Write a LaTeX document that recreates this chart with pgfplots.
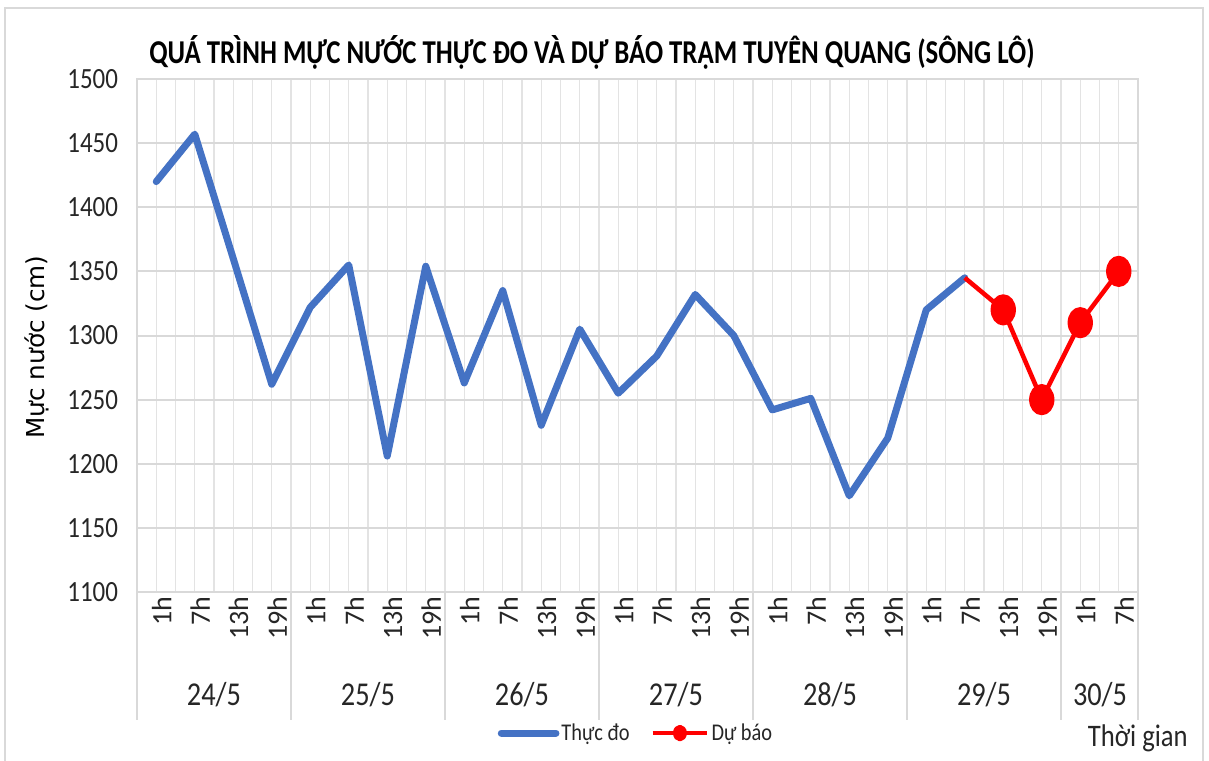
\documentclass[border=0pt]{standalone}
\usepackage{fontspec}
\usepackage{pgfplots}
\pgfplotsset{compat=1.18}
\setmainfont{Carlito}
\newfontfamily\cond[FakeStretch=0.85]{Carlito}
\newfontfamily\titlefont[FakeStretch=0.805]{Carlito}
\newfontfamily\ylabfont{DejaVu Sans}

\definecolor{xlblue}{HTML}{4472C4}
\definecolor{xlred}{HTML}{FF0000}
\definecolor{gridc}{HTML}{D9D9D9}
\definecolor{gridv}{HTML}{E3E3E3}
\definecolor{txt}{HTML}{262626}

\begin{document}
\begin{tikzpicture}
\path[use as bounding box] (0,0) rectangle (906.75pt,-570pt);

\begin{scope}[x=0.75pt,y=-0.75pt]
  % chart frame
  \draw[gridc, line width=1.5pt] (5,775) -- (5,8) -- (1203,8) -- (1203,775);
\end{scope}

\begin{axis}[
    at={(102.75pt,-444pt)}, anchor=south west,
    scale only axis,
    width=750.75pt, height=384.75pt,
    xmin=-0.5, xmax=25.5,
    ymin=1100, ymax=1500,
    ytick={1100,1150,...,1500},
    xtick={0,...,25},
    xticklabels={1h,7h,13h,19h,1h,7h,13h,19h,1h,7h,13h,19h,1h,7h,13h,19h,1h,7h,13h,19h,1h,7h,13h,19h,1h,7h},
    minor xtick={-0.5,0,...,25.5},
    xmajorgrids=false, xminorgrids=true, ymajorgrids=true,
    major grid style={gridc, line width=1.5pt},
    minor grid style={gridv, line width=1.1pt},
    major tick length=0pt, minor tick length=0pt,
    axis line style={gridc, line width=1.2pt},
    /pgf/number format/assume math mode=true,
    /pgf/number format/1000 sep={},
    yticklabel style={font=\cond\fontsize{22}{24}\selectfont, text=txt, xshift=-10.75pt},
    xticklabel style={font=\fontsize{21}{24}\selectfont, text=txt, rotate=90, anchor=east, yshift=-4pt},
    clip=false,
    legend style={at={(0.4985,-0.275)}, anchor=center, draw=none, fill=none,
      legend columns=2, font=\cond\fontsize{18}{20}\selectfont, text=txt,
      /tikz/every even column/.append style={column sep=14pt},
      nodes={inner sep=1.5pt}},
    legend image code/.code={\draw[#1] (0pt,0pt) -- (41pt,0pt);},
]
\addplot[xlblue, line width=5.25pt, line join=round, line cap=round] coordinates {
(0,1420) (1,1457) (2,1360) (3,1262) (4,1322) (5,1355) (6,1206) (7,1354)
(8,1263) (9,1335) (10,1230) (11,1305) (12,1255) (13,1284) (14,1332) (15,1300)
(16,1242) (17,1251) (18,1175) (19,1220) (20,1320) (21,1345)
};
\addlegendentry{Thực đo}
\addplot[xlred, line width=3.4pt, line join=round, mark=*, mark size=10pt,
  mark indices={2,3,4,5}, mark options={xscale=0.78, solid, fill=xlred},
  legend image code/.code={\draw[xlred, line width=3.4pt] (0pt,0pt) -- (41pt,0pt); \fill[xlred] (20.5pt,0pt) ellipse (3.5pt and 4.5pt);}] coordinates {
(21,1345) (22,1320) (23,1250) (24,1310) (25,1350)
};
\addlegendentry{Dự báo}
\end{axis}

\begin{scope}[x=0.75pt,y=-0.75pt]
  % bottom axis line
  \draw[gridc, line width=2.2pt] (137,592) -- (1138,592);
  % group separators
  \foreach \gx in {137,291,445,599,753,907,1061,1138}
    \draw[gridc, line width=1.5pt] (\gx,592) -- (\gx,720);
  % date labels
  \foreach \gx/\lab in {214/{24/5},368/{25/5},522/{26/5},676/{27/5},830/{28/5},984/{29/5},1100/{30/5}}
    \node[font=\cond\fontsize{25}{28}\selectfont, text=txt] at (\gx,695) {\lab};
  % title
  \node[font=\titlefont\bfseries\fontsize{25}{30}\selectfont, text=black] at (592,52)
    {QUÁ TRÌNH MỰC NƯỚC THỰC ĐO VÀ DỰ BÁO TRẠM TUYÊN QUANG (SÔNG LÔ)};
  % y label
  \node[font=\ylabfont\fontsize{18.5}{22}\selectfont, text=black, rotate=90] at (37,347)
    {Mực nước (cm)};
  % x label
  \node[font=\cond\fontsize{23.5}{26}\selectfont, text=txt, anchor=east, inner sep=0pt] at (1188,738)
    {Thời gian};
\end{scope}
\end{tikzpicture}
\end{document}
